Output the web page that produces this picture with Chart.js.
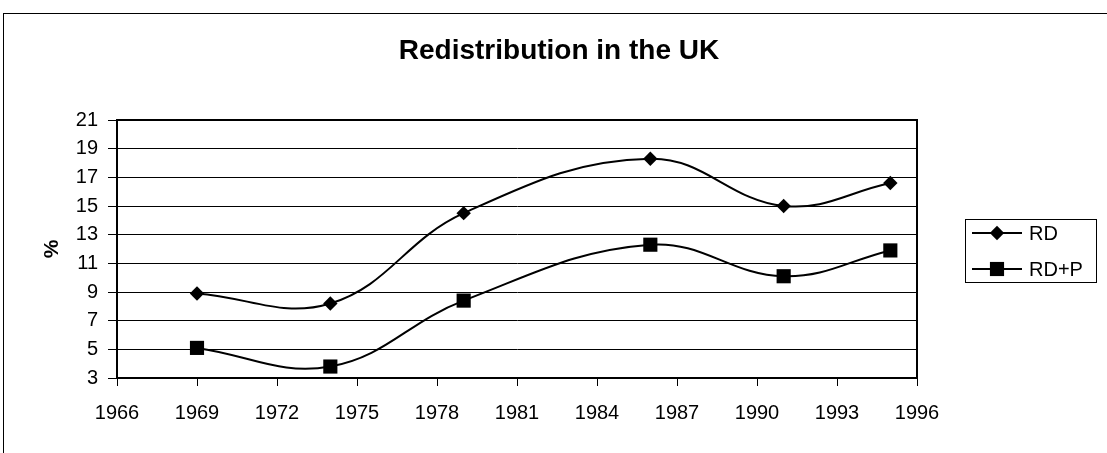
<!DOCTYPE html>
<html>
<head>
<meta charset="utf-8">
<script src="https://cdn.jsdelivr.net/npm/chart.js@4/dist/chart.umd.min.js"></script>
<style>
html,body{margin:0;padding:0;background:#fff;}
canvas{display:block;}
</style>
</head>
<body>
<canvas id="c" width="1107" height="453" style="width:1107px;height:453px"></canvas>
<script>
// ---- data ----
const years = [1969, 1974, 1979, 1986, 1991, 1995];
const rd = [8.9, 8.2, 14.5, 18.3, 15.0, 16.6];
const rdp = [5.1, 3.8, 8.4, 12.3, 10.1, 11.9];
const seriesNames = ['RD', 'RD+P'];
const chartTitle = 'Redistribution in the UK';
const yAxisTitle = '%';
const xTickValues = [1966, 1969, 1972, 1975, 1978, 1981, 1984, 1987, 1990, 1993, 1996];
const yTickValues = [3, 5, 7, 9, 11, 13, 15, 17, 19, 21];

const FONT = "'Liberation Sans', Arial, Helvetica, sans-serif";

const toPoints = (xs, ys) => xs.map((x, i) => ({x: x, y: ys[i]}));

const decorPlugin = {
  id: 'decor',
  beforeDraw(chart) {
    const ctx = chart.ctx;
    ctx.save();
    ctx.fillStyle = '#fff';
    ctx.fillRect(0, 0, chart.width, chart.height);
    ctx.strokeStyle = '#000';
    ctx.lineWidth = 1;
    ctx.strokeRect(3.5, 13.5, 1300, 1000);
    ctx.restore();
  },
  afterDraw(chart) {
    const ctx = chart.ctx;
    const a = chart.chartArea;
    ctx.save();
    ctx.strokeStyle = '#000';
    ctx.lineWidth = 2;
    ctx.beginPath();
    ctx.moveTo(a.left, a.top);
    ctx.lineTo(a.right, a.top);
    ctx.lineTo(a.right, a.bottom);
    ctx.stroke();
    // title
    ctx.fillStyle = '#000';
    ctx.font = 'bold 28px ' + FONT;
    ctx.textAlign = 'center';
    ctx.textBaseline = 'middle';
    ctx.fillText(chartTitle, 559, 51);
    // legend
    ctx.lineWidth = 1;
    ctx.strokeStyle = '#000';
    ctx.strokeRect(965.5, 219.5, 131, 63);
    const rows = [233, 269];
    chart.data.datasets.forEach((ds, i) => {
      const y = rows[i];
      ctx.strokeStyle = '#000';
      ctx.lineWidth = 2;
      ctx.beginPath();
      ctx.moveTo(972, y);
      ctx.lineTo(1022, y);
      ctx.stroke();
      ctx.fillStyle = '#000';
      Chart.helpers.drawPoint(ctx, {pointStyle: ds.pointStyle, radius: ds.pointRadius, rotation: 0, borderWidth: 0}, 997, y);
      ctx.fillStyle = '#000';
      ctx.font = '20px ' + FONT;
      ctx.textAlign = 'left';
      ctx.textBaseline = 'middle';
      ctx.fillText(ds.label, 1029, y + 1);
    });
    ctx.restore();
  }
};

new Chart(document.getElementById('c'), {
  type: 'line',
  data: {
    datasets: [
      {
        label: seriesNames[0],
        data: toPoints(years, rd),
        borderColor: '#000',
        backgroundColor: '#000',
        borderWidth: 2,
        pointStyle: 'rectRot',
        pointRadius: 7.2,
        pointBorderWidth: 0,
        pointBackgroundColor: '#000',
        tension: 0.4,
        fill: false
      },
      {
        label: seriesNames[1],
        data: toPoints(years, rdp),
        borderColor: '#000',
        backgroundColor: '#000',
        borderWidth: 2,
        pointStyle: 'rect',
        pointRadius: 10,
        pointBorderWidth: 0,
        pointBackgroundColor: '#000',
        tension: 0.4,
        fill: false
      }
    ]
  },
  options: {
    responsive: false,
    devicePixelRatio: 1,
    animation: false,
    events: [],
    layout: {padding: {left: 0, right: 190, top: 120, bottom: 0}},
    plugins: {
      legend: {display: false},
      title: {display: false},
      tooltip: {enabled: false}
    },
    scales: {
      x: {
        type: 'linear',
        min: xTickValues[0],
        max: xTickValues[xTickValues.length - 1],
        afterFit(scale) { scale.height = 75; },
        afterBuildTicks(scale) { scale.ticks = xTickValues.map(v => ({value: v})); },
        ticks: {
          autoSkip: false,
          maxRotation: 0,
          padding: 15,
          color: '#000',
          font: {family: FONT, size: 20},
          callback: (v) => String(v)
        },
        grid: {display: true, drawOnChartArea: false, drawTicks: true, tickLength: 8, color: '#000', lineWidth: 1},
        border: {display: true, color: '#000', width: 2}
      },
      y: {
        type: 'linear',
        min: yTickValues[0],
        max: yTickValues[yTickValues.length - 1],
        afterFit(scale) { scale.width = 117; },
        afterBuildTicks(scale) { scale.ticks = yTickValues.map(v => ({value: v})); },
        ticks: {
          autoSkip: false,
          padding: 10,
          color: '#000',
          font: {family: FONT, size: 20},
          callback: (v) => String(v)
        },
        grid: {display: true, drawOnChartArea: true, drawTicks: true, tickLength: 9, color: '#000', lineWidth: 1},
        border: {display: true, color: '#000', width: 2},
        title: {
          display: true,
          text: yAxisTitle,
          color: '#000',
          font: {family: FONT, size: 21, weight: 'bold'},
          padding: {top: 40, bottom: 0}
        }
      }
    }
  },
  plugins: [decorPlugin]
});
</script>
</body>
</html>
